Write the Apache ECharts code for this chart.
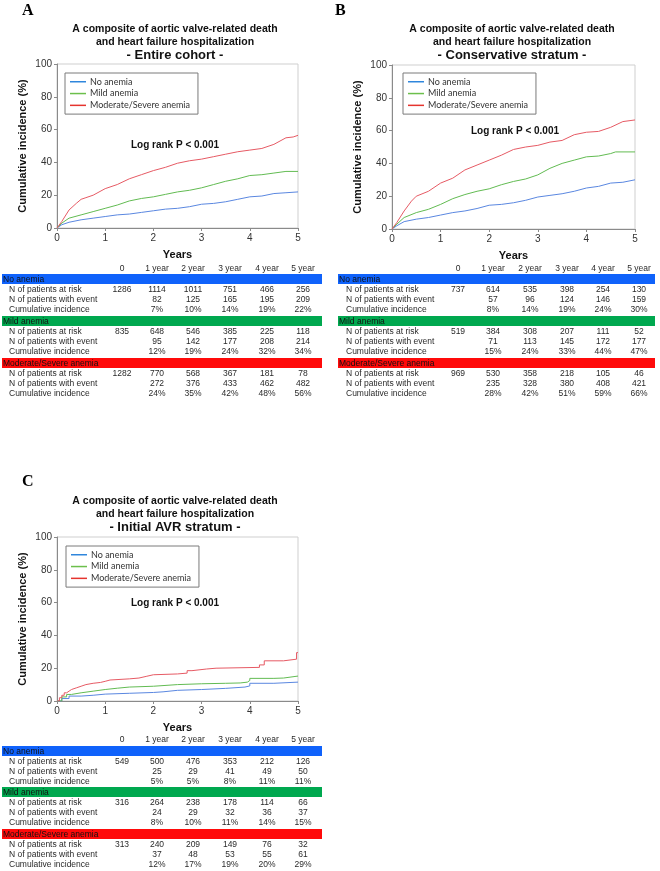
<!DOCTYPE html>
<html>
<head>
<meta charset="utf-8">
<script src="https://cdn.jsdelivr.net/npm/echarts@6/dist/echarts.min.js"></script>
<style>
html, body { margin: 0; padding: 0; background: #fff; }
#main { width: 660px; height: 871px; }
</style>
</head>
<body>
<div id="main"></div>
<script>
// cumulative incidence curves, [years, %]
const noAnemiaA = [[0,0],[0.1,2],[0.25,3.5],[0.5,5],[0.75,6],[1,7],[1.25,8],[1.5,8.5],[1.75,9.5],[2,10.5],[2.25,11.5],[2.5,12],[2.75,13],[3,14.5],[3.25,15],[3.5,16],[3.75,17.5],[4,19],[4.25,19.5],[4.5,21],[4.75,21.5],[5,22]]
const mildA = [[0,0],[0.1,3],[0.25,6],[0.5,8],[0.75,10],[1,12],[1.25,14],[1.5,16.5],[1.75,18],[2,19],[2.25,20.5],[2.5,22],[2.75,23],[3,24.5],[3.25,26.5],[3.5,28.5],[3.75,30],[4,32],[4.25,32.5],[4.5,33.5],[4.75,34.5],[5,34.5]]
const severeA = [[0,0],[0.1,4],[0.25,11],[0.4,15],[0.5,17.5],[0.6,18.5],[0.75,20],[1,24],[1.25,26.5],[1.5,30],[1.75,32.5],[2,35],[2.25,37],[2.5,39.5],[2.75,41],[3,42],[3.25,43.5],[3.5,45],[3.75,46.5],[4,47.5],[4.25,48.5],[4.5,51],[4.75,55],[4.9,55.5],[5,56.5]]

const noAnemiaB = [[0,0],[0.1,2],[0.25,4.5],[0.5,6],[0.75,7],[1,8.5],[1.25,10],[1.5,11],[1.75,12.5],[2,14.5],[2.25,15],[2.5,16],[2.75,17.5],[3,19.5],[3.25,20.5],[3.5,21.5],[3.75,23],[4,25],[4.25,26],[4.5,28],[4.75,28.5],[5,30]]
const mildB = [[0,0],[0.1,3],[0.25,7],[0.5,10],[0.75,12],[1,15],[1.25,18.5],[1.5,21],[1.75,23],[2,24.5],[2.25,27],[2.5,29],[2.75,30.5],[3,33],[3.25,37],[3.5,40],[3.75,42],[4,44],[4.25,44.5],[4.5,46],[4.6,47],[5,47]]
const severeB = [[0,0],[0.1,4],[0.25,11],[0.4,17],[0.5,20],[0.75,23],[1,28],[1.25,31],[1.5,36],[1.75,39],[2,42],[2.25,45],[2.5,48.5],[2.75,50],[3,51],[3.25,53],[3.5,54],[3.75,57.5],[4,59],[4.25,59.5],[4.5,62],[4.75,65.5],[5,66.5]]

const noAnemiaC = [[0,0],[0.1,1.5],[0.25,3],[0.5,3.5],[0.75,4.2],[1,4.7],[1.5,5.2],[2,5.6],[2.2,6.5],[2.5,7],[3,7.7],[3.5,8.5],[3.9,9.2],[4,10.8],[4.5,11.5],[5,11.8]]
const mildC = [[0,0],[0.1,2.5],[0.2,4],[0.3,5],[0.5,6],[0.75,7],[1,7.8],[1.25,8.5],[1.5,9],[2,10],[2.5,10.5],[3,10.8],[3.5,11],[3.8,11.5],[3.95,12.5],[4,13.8],[4.5,14],[4.7,15.2],[5,15.2]]
const severeC = [[0,0],[0.05,2],[0.1,3.5],[0.15,5],[0.2,6],[0.25,7],[0.3,8],[0.4,9],[0.5,10],[0.6,10.8],[0.75,11.3],[0.9,12],[1,12.8],[1.1,13.5],[1.5,14],[1.7,15],[1.85,16],[2,16.5],[2.5,17],[2.7,18.5],[2.8,19.5],[3.1,20],[3.3,20.5],[4.2,22],[4.3,24.5],[4.7,25.5],[4.97,29.5],[5,29.5]]

// risk tables: [no anemia, mild, moderate/severe]
const riskA = [[1286,1114,1011,751,466,256],[835,648,546,385,225,118],[1282,770,568,367,181,78]]
const eventA = [[82,125,165,195,209],[95,142,177,208,214],[272,376,433,462,482]]
const ciA = [[7,10,14,19,22],[12,19,24,32,34],[24,35,42,48,56]]

const riskB = [[737,614,535,398,254,130],[519,384,308,207,111,52],[969,530,358,218,105,46]]
const eventB = [[57,96,124,146,159],[71,113,145,172,177],[235,328,380,408,421]]
const ciB = [[8,14,19,24,30],[15,24,33,44,47],[28,42,51,59,66]]

const riskC = [[549,500,476,353,212,126],[316,264,238,178,114,66],[313,240,209,149,76,32]]
const eventC = [[25,29,41,49,50],[24,29,32,36,37],[37,48,53,55,61]]
const ciC = [[5,5,8,11,11],[8,10,11,14,15],[12,17,19,20,29]]

const yearLabels = ['0', '1 year', '2 year', '3 year', '4 year', '5 year']
const rowLabels = ['N of patients at risk', 'N of patients with event', 'Cumulative incidence']
const groups = ['No anemia', 'Mild anemia', 'Moderate/Severe anemia']
const subtitles = ['- Entire cohort -', '- Conservative stratum -', '- Initial AVR stratum -']
const letters = ['A', 'B', 'C']

const lineColors = ['#5a87e0', '#62bb52', '#e65a64']
const legendColors = ['#2f86dc', '#6cbf4c', '#e5342e']
const bandColors = ['#0f62fb', '#00a84f', '#ff0a0a']
const FONT = '"Liberation Sans", Arial, sans-serif'

const colsA = [122, 157, 193, 230, 267, 303]
const panels = [
    {curves: [noAnemiaA, mildA, severeA], risk: riskA, event: eventA, ci: ciA,
     grid: {left: 57, top: 64, width: 241, height: 164}, cx: 175, titleTop: 23, letter: [22, 3],
     logrank: [175, 145], legend: [65, 73],
     table: {x0: 2, x1: 322, head: 269, bands: [274, 316, 358], labelX: 9, cols: colsA}},
    {curves: [noAnemiaB, mildB, severeB], risk: riskB, event: eventB, ci: ciB,
     grid: {left: 392, top: 65, width: 243, height: 164}, cx: 512, titleTop: 23, letter: [335, 3],
     logrank: [515, 131], legend: [403, 73],
     table: {x0: 338, x1: 655, head: 269, bands: [274, 316, 358], labelX: 346, cols: [458, 493, 530, 567, 603, 639]}},
    {curves: [noAnemiaC, mildC, severeC], risk: riskC, event: eventC, ci: ciC,
     grid: {left: 57, top: 537, width: 241, height: 164}, cx: 175, titleTop: 495, letter: [22, 474],
     logrank: [175, 603], legend: [66, 546],
     table: {x0: 2, x1: 322, head: 740, bands: [746, 787, 829], labelX: 9, cols: colsA}}
]

const chart = echarts.init(document.getElementById('main'))

const grids = [], xAxes = [], yAxes = [], series = [], legends = [], titles = [], graphics = []

function txt(x, y, text, opt) {
    graphics.push({
        type: 'text', x: x, y: y, silent: true,
        style: Object.assign({
            text: String(text), fill: '#2a2a2a', fontFamily: FONT, fontSize: 8,
            textAlign: 'left', textVerticalAlign: 'middle', verticalAlign: 'middle'
        }, opt || {})
    })
}

panels.forEach((p, i) => {
    grids.push(Object.assign({show: true, borderColor: '#cfcfcf', borderWidth: 1, backgroundColor: 'transparent'}, p.grid))
    xAxes.push({
        gridIndex: i, type: 'value', min: 0, max: 5, interval: 1,
        name: 'Years', nameLocation: 'middle', nameGap: 21,
        nameTextStyle: {fontFamily: FONT, fontWeight: 'bold', fontSize: 11, color: '#111'},
        axisLine: {lineStyle: {color: '#8a8a8a'}},
        axisTick: {length: 3, lineStyle: {color: '#8a8a8a'}},
        axisLabel: {margin: 5, fontFamily: FONT, fontSize: 10, color: '#333'},
        splitLine: {show: false}
    })
    yAxes.push({
        gridIndex: i, type: 'value', min: 0, max: 100, interval: 20,
        name: 'Cumulative incidence (%)', nameLocation: 'middle', nameGap: 29,
        nameTextStyle: {fontFamily: FONT, fontWeight: 'bold', fontSize: 11, color: '#111'},
        axisLine: {show: true, lineStyle: {color: '#8a8a8a'}},
        axisTick: {show: true, length: 3, lineStyle: {color: '#8a8a8a'}},
        axisLabel: {margin: 5, fontFamily: FONT, fontSize: 10, color: '#333'},
        splitLine: {show: false}
    })
    p.curves.forEach((data, k) => {
        series.push({
            type: 'line', name: groups[k], xAxisIndex: i, yAxisIndex: i,
            data: data, showSymbol: false, symbol: 'none',
            step: i === 2 ? 'end' : false,
            lineStyle: {width: 1, color: lineColors[k]},
            itemStyle: {color: lineColors[k]},
            animation: false
        })
    })
    legends.push({
        left: p.legend[0], top: p.legend[1], orient: 'vertical',
        data: groups.map((g, k) => ({name: g, itemStyle: {color: legendColors[k]}})),
        icon: 'rect', itemWidth: 16, itemHeight: 1.5, itemGap: 2.3,
        padding: [4, 8, 4, 5], borderColor: '#7a7a7a', borderWidth: 1,
        selectedMode: false,
        textStyle: {fontFamily: 'Lato, "Open Sans", sans-serif', fontSize: 9, color: '#333', lineHeight: 9.5, padding: [0, 0, 0, -1]}
    })
    titles.push({
        left: p.cx, top: p.titleTop, textAlign: 'center', padding: 0,
        text: '{a|A composite of aortic valve-related death}\n{a|and heart failure hospitalization}\n{b|' + subtitles[i] + '}',
        textStyle: {
            rich: {
                a: {fontFamily: FONT, fontWeight: 'bold', fontSize: 10.5, lineHeight: 12.7, color: '#111'},
                b: {fontFamily: FONT, fontWeight: 'bold', fontSize: 13, lineHeight: 15, color: '#111'}
            }
        }
    })
    // panel letter and log rank note
    txt(p.letter[0], p.letter[1], letters[i], {fontFamily: '"Liberation Serif", serif', fontWeight: 'bold', fontSize: 16, fill: '#000', textVerticalAlign: 'top', verticalAlign: 'top'})
    txt(p.logrank[0], p.logrank[1], 'Log rank P < 0.001', {fontWeight: 'bold', fontSize: 10, fill: '#111', textAlign: 'center'})

    // risk table
    const t = p.table
    yearLabels.forEach((y, c) => txt(t.cols[c], t.head, y, {textAlign: 'center', fontSize: 8.5}))
    groups.forEach((g, k) => {
        const by = t.bands[k]
        graphics.push({type: 'rect', silent: true, shape: {x: t.x0, y: by, width: t.x1 - t.x0, height: 10}, style: {fill: bandColors[k]}})
        txt(t.x0 + 1, by + 5.3, g, {fontSize: 8.5, fill: '#111'})
        const rows = [
            p.risk[k].map(String),
            [''].concat(p.event[k].map(String)),
            [''].concat(p.ci[k].map(v => v + '%'))
        ]
        rows.forEach((vals, r) => {
            const ry = by + 15.5 + r * 10.3
            txt(t.labelX, ry, rowLabels[r], {fontSize: 8.5})
            vals.forEach((v, c) => { if (v !== '') txt(t.cols[c], ry, v, {textAlign: 'center', fontSize: 8.5}) })
        })
    })
})

chart.setOption({
    animation: false,
    backgroundColor: '#fff',
    title: titles,
    legend: legends,
    grid: grids,
    xAxis: xAxes,
    yAxis: yAxes,
    series: series,
    graphic: {elements: graphics}
})
</script>
</body>
</html>
